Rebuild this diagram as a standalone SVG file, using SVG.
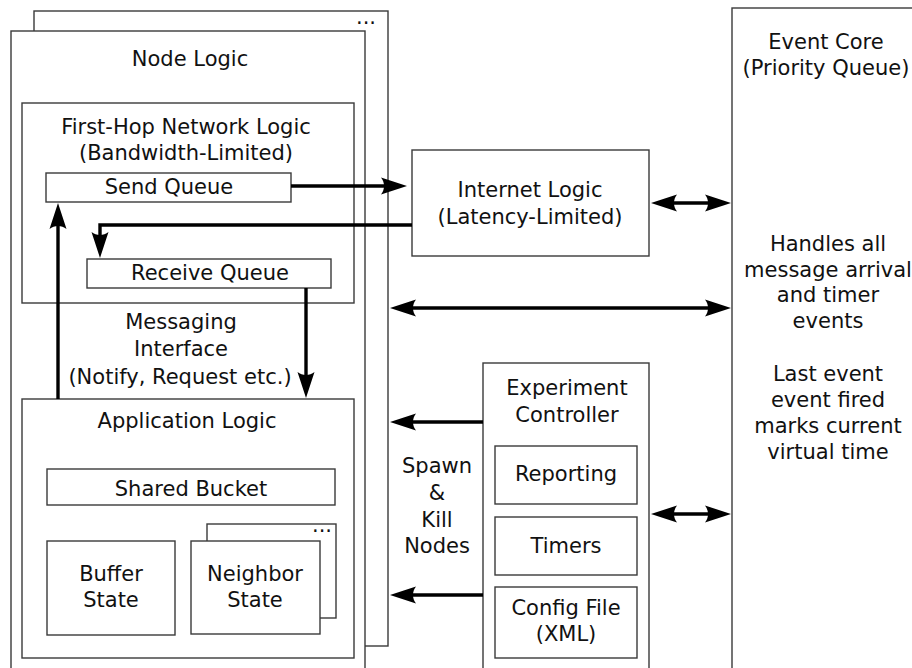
<svg xmlns="http://www.w3.org/2000/svg" width="912" height="668" viewBox="0 0 912 668">
<defs>
<marker id="ah" markerUnits="userSpaceOnUse" markerWidth="30" markerHeight="20" viewBox="0 -10 28 20" refX="16" refY="0" orient="auto-start-reverse" overflow="visible">
<path d="M26,0 L0,-8.5 C4,-3.7 4,3.7 0,8.5 Z" fill="#000"/>
</marker>
<style>
.box{fill:#fff;stroke:#3a3a3a;stroke-width:1.4}
.t{font-family:"DejaVu Sans","Liberation Sans",sans-serif;font-size:21px;fill:#111;text-anchor:middle}
.c{fill:none;stroke:#000;stroke-width:3.4}
</style>
</defs>
<rect width="912" height="668" fill="#fff"/>

<g id="node-logic">
<rect class="box" x="34" y="11" width="354" height="635"/>
<text class="t" x="366" y="24">...</text>
<rect class="box" x="11" y="31" width="354" height="700"/>
<text class="t" x="190" y="66">Node Logic</text>
</g>

<g id="first-hop">
<rect class="box" x="22" y="103" width="332" height="200"/>
<text class="t" x="186" y="134">First-Hop Network Logic</text>
<text class="t" x="186" y="160">(Bandwidth-Limited)</text>
</g>

<g id="send-queue">
<rect class="box" x="46" y="173" width="245" height="29"/>
<text class="t" x="169" y="194">Send Queue</text>
</g>

<g id="receive-queue">
<rect class="box" x="87" y="259" width="244" height="29"/>
<text class="t" x="210" y="280">Receive Queue</text>
</g>

<g id="messaging-interface">
<text class="t" x="181" y="329">Messaging</text>
<text class="t" x="181" y="356">Interface</text>
<text class="t" x="180" y="384">(Notify, Request etc.)</text>
</g>

<g id="application-logic">
<rect class="box" x="22" y="399" width="332" height="259"/>
<text class="t" x="187" y="428">Application Logic</text>
</g>

<g id="shared-bucket">
<rect class="box" x="47" y="469" width="288" height="36"/>
<text class="t" x="191" y="496">Shared Bucket</text>
</g>

<g id="buffer-state">
<rect class="box" x="47" y="541" width="128" height="94"/>
<text class="t" x="111" y="581">Buffer</text>
<text class="t" x="111" y="607">State</text>
</g>

<g id="neighbor-state">
<rect class="box" x="207" y="524" width="129" height="94"/>
<text class="t" x="322" y="532">...</text>
<rect class="box" x="191" y="541" width="129" height="93"/>
<text class="t" x="255" y="581">Neighbor</text>
<text class="t" x="255" y="607">State</text>
</g>

<g id="internet-logic">
<rect class="box" x="412" y="150" width="237" height="106"/>
<text class="t" x="530" y="197">Internet Logic</text>
<text class="t" x="530" y="224">(Latency-Limited)</text>
</g>

<g id="experiment-controller">
<rect class="box" x="483" y="363" width="166" height="400"/>
<text class="t" x="567" y="395">Experiment</text>
<text class="t" x="567" y="422">Controller</text>
</g>

<g id="reporting">
<rect class="box" x="495" y="446" width="142" height="58"/>
<text class="t" x="566" y="481">Reporting</text>
</g>

<g id="timers">
<rect class="box" x="495" y="517" width="142" height="58"/>
<text class="t" x="566" y="553">Timers</text>
</g>

<g id="config-file">
<rect class="box" x="495" y="587" width="142" height="71"/>
<text class="t" x="566" y="615">Config File</text>
<text class="t" x="566" y="641">(XML)</text>
</g>

<g id="spawn-kill">
<text class="t" x="437" y="473">Spawn</text>
<text class="t" x="437" y="500">&amp;</text>
<text class="t" x="437" y="527">Kill</text>
<text class="t" x="437" y="553">Nodes</text>
</g>

<g id="event-core">
<rect class="box" x="732" y="8" width="300" height="700"/>
<text class="t" x="826" y="49">Event Core</text>
<text class="t" x="826" y="75">(Priority Queue)</text>
<text class="t" x="828" y="251">Handles all</text>
<text class="t" x="828" y="277">message arrival</text>
<text class="t" x="828" y="302">and timer</text>
<text class="t" x="828" y="328">events</text>
<text class="t" x="828" y="381">Last event</text>
<text class="t" x="828" y="407">event fired</text>
<text class="t" x="828" y="433">marks current</text>
<text class="t" x="828" y="459">virtual time</text>
</g>

<g id="connectors">
<path class="c" d="M291,186 H397" marker-end="url(#ah)"/>
<path class="c" d="M412,225 H100 V248" marker-end="url(#ah)"/>
<path class="c" d="M306,288 V388" marker-end="url(#ah)"/>
<path class="c" d="M58,399 V213" marker-end="url(#ah)"/>
<path class="c" d="M661,203 H721" marker-start="url(#ah)" marker-end="url(#ah)"/>
<path class="c" d="M400,308 H721" marker-start="url(#ah)" marker-end="url(#ah)"/>
<path class="c" d="M483,422 H400" marker-end="url(#ah)"/>
<path class="c" d="M483,595 H400" marker-end="url(#ah)"/>
<path class="c" d="M661,514 H721" marker-start="url(#ah)" marker-end="url(#ah)"/>
</g>
</svg>
